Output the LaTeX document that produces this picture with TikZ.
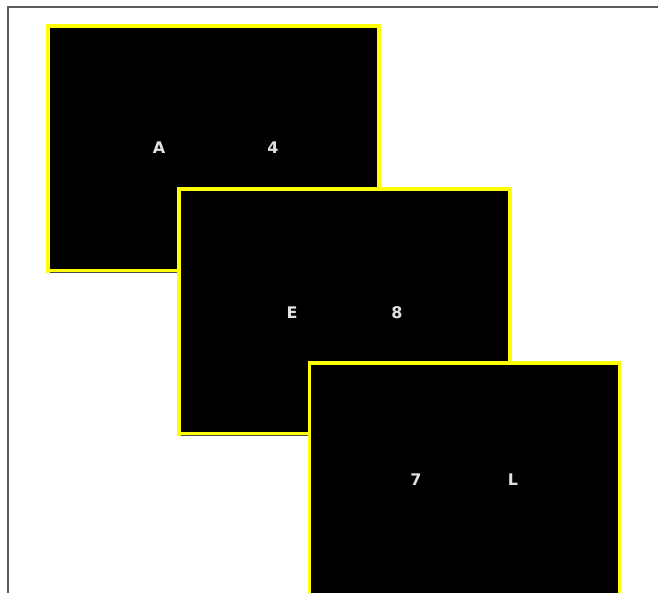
\documentclass[tikz,border=0pt]{standalone}
\usepackage{fontspec}
\setmainfont{DejaVu Sans}
\definecolor{frameyellow}{RGB}{255,255,0}
\definecolor{labelgray}{RGB}{225,225,225}
\definecolor{bordergray}{RGB}{90,90,90}
\tikzset{
  x=1pt,y=-1pt,
  panel/.style={fill=black,draw=frameyellow,line width=4pt},
  lbl/.style={text=labelgray,font=\fontsize{16}{18}\selectfont\bfseries,inner sep=0pt},
  shade/.style={draw=black!70,line width=1pt}
}
\begin{document}
\begin{tikzpicture}
\useasboundingbox (0,0) rectangle (658,592);
\fill[white] (0,0) rectangle (658,592);
% outer frame (top and left only)
\draw[bordergray,line width=2pt] (7.5,600) -- (7.5,6.5) -- (670,6.5);
% panel 1
\draw[panel] (47.5,26) rectangle (378.5,270.5);
\draw[shade] (50,272.5) -- (376,272.5);
\node[lbl] (a) at (159,148) {A};
\node[lbl] (n4) at (273,148) {4};
% panel 2
\draw[panel] (178.5,189) rectangle (510,433.5);
\draw[shade] (181,435.5) -- (508,435.5);
\node[lbl] (e) at (292,313) {E};
\node[lbl] (n8) at (397,313) {8};
% panel 3
\draw[panel,line width=3.5pt] (309.5,362.75) rectangle (619.25,620);
\node[lbl] (n7) at (416,480) {7};
\node[lbl] (l) at (513,480) {L};
\end{tikzpicture}
\end{document}
